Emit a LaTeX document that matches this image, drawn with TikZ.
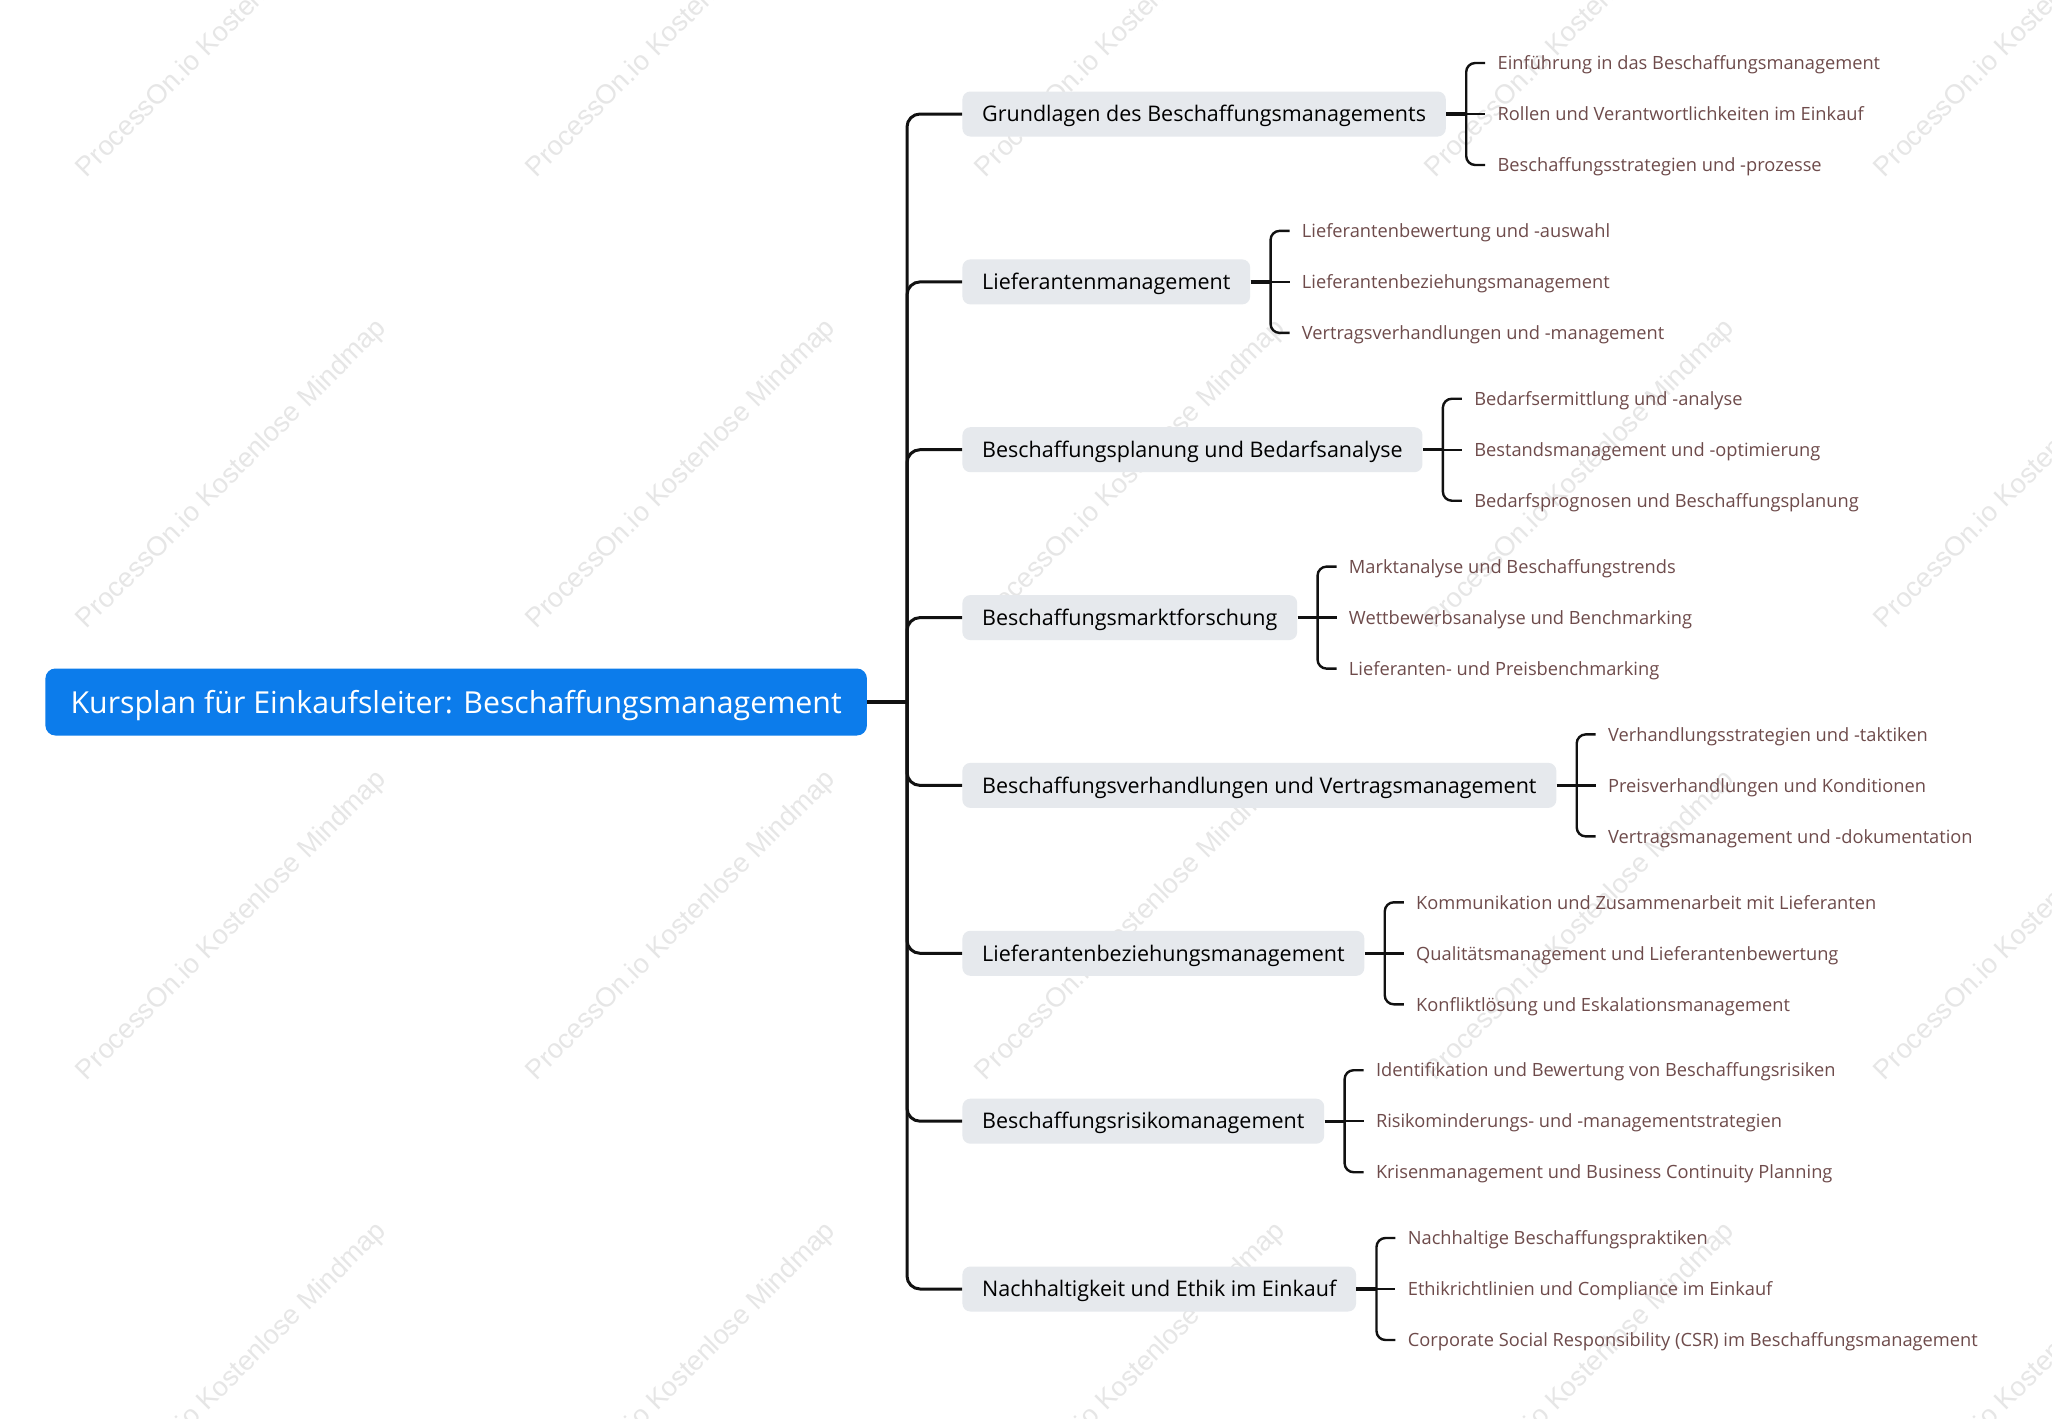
\documentclass[tikz,border=0pt]{standalone}
\usepackage{fontspec}
\setmainfont{Open Sans}
\newfontfamily\wmfont{Liberation Sans}
\usetikzlibrary{calc}
\definecolor{rootblue}{HTML}{0C7CEB}
\definecolor{branchgray}{HTML}{E6E9ED}
\definecolor{leafbrown}{HTML}{6E4B4B}
\definecolor{linec}{HTML}{111111}
\definecolor{wmgray}{HTML}{E6E6E6}
\newcommand{\branchgroup}[6]{%
  \node[branchbox] (#1) at (962,#2) {#3};
  \coordinate (#1k) at ($(#1.east)+(20,0)$);
  \node[leaf] (#1a) at ($(#1.east)+(39,-51)$) {#4};
  \node[leaf] (#1b) at ($(#1.east)+(39,0)$) {#5};
  \node[leaf] (#1c) at ($(#1.east)+(39,51)$) {#6};
  \draw[trunkline] (trunk) |- (#1.west);
  \draw[stemline] (#1.east) -- (#1k);
  \draw[bracketline] (#1k) |- (#1a.west);
  \draw[bracketline] (#1k) -- (#1b.west);
  \draw[bracketline] (#1k) |- (#1c.west);
}
\begin{document}
\begin{tikzpicture}[x=0.5pt,y=-0.5pt,
 rootbox/.style={fill=rootblue, text=white, rounded corners=5pt, inner xsep=12.6pt, inner ysep=0pt, minimum height=33.5pt, text height=14.3pt, text depth=3.2pt, font=\fontsize{15.15pt}{18pt}\selectfont, anchor=west},
 branchbox/.style={fill=branchgray, text=black, rounded corners=4pt, inner xsep=9.9pt, inner ysep=0pt, minimum height=22.5pt, text height=10pt, text depth=2.3pt, font=\fontsize{10.75pt}{13pt}\selectfont, anchor=west},
 leaf/.style={text=leafbrown, inner xsep=6pt, inner ysep=0pt, text height=8.7pt, text depth=2pt, font=\fontsize{9.13pt}{11pt}\selectfont, anchor=west},
 rootline/.style={draw=linec, line width=2.2pt},
 trunkline/.style={draw=linec, line width=1.5pt, rounded corners=6.5pt},
 stemline/.style={draw=linec, line width=1.6pt},
 bracketline/.style={draw=linec, line width=1.2pt, rounded corners=4.5pt},
 wm/.style={text=wmgray, font=\wmfont\fontsize{13.6pt}{16pt}\selectfont, rotate=45}
]
\fill[white] (0,0) rectangle (2052,1419);
\useasboundingbox (0,0) rectangle (2052,1419);
\begin{scope}
\clip (0,0) rectangle (2052,1419);
\foreach \i in {0,...,4} {
  \foreach \j in {0,...,3} {
    \node[wm] (wm\i\j) at ({232+449.5*\i},{23+451.5*\j}) {ProcessOn.io Kostenlose Mindmap};
  }
}
\end{scope}
\node[rootbox] (root) at (45,702) {Kursplan für Einkaufsleiter: Beschaffungsmanagement};
\coordinate (trunk) at (907,702);
\draw[rootline] (root.east) -- (trunk);
\branchgroup{b1}{114}{Grundlagen des Beschaffungsmanagements}{Einführung in das Beschaffungsmanagement}{Rollen und Verantwortlichkeiten im Einkauf}{Beschaffungsstrategien und -prozesse}
\branchgroup{b2}{281.9}{Lieferantenmanagement}{Lieferantenbewertung und -auswahl}{Lieferantenbeziehungsmanagement}{Vertragsverhandlungen und -management}
\branchgroup{b3}{449.7}{Beschaffungsplanung und Bedarfsanalyse}{Bedarfsermittlung und -analyse}{Bestandsmanagement und -optimierung}{Bedarfsprognosen und Beschaffungsplanung}
\branchgroup{b4}{617.6}{Beschaffungsmarktforschung}{Marktanalyse und Beschaffungstrends}{Wettbewerbsanalyse und Benchmarking}{Lieferanten- und Preisbenchmarking}
\branchgroup{b5}{785.4}{Beschaffungsverhandlungen und Vertragsmanagement}{Verhandlungsstrategien und -taktiken}{Preisverhandlungen und Konditionen}{Vertragsmanagement und -dokumentation}
\branchgroup{b6}{953.3}{Lieferantenbeziehungsmanagement}{Kommunikation und Zusammenarbeit mit Lieferanten}{Qualitätsmanagement und Lieferantenbewertung}{Konfliktlösung und Eskalationsmanagement}
\branchgroup{b7}{1121.2}{Beschaffungsrisikomanagement}{Identifikation und Bewertung von Beschaffungsrisiken}{Risikominderungs- und -managementstrategien}{Krisenmanagement und Business Continuity Planning}
\branchgroup{b8}{1289}{Nachhaltigkeit und Ethik im Einkauf}{Nachhaltige Beschaffungspraktiken}{Ethikrichtlinien und Compliance im Einkauf}{Corporate Social Responsibility (CSR) im Beschaffungsmanagement}
\end{tikzpicture}
\end{document}
